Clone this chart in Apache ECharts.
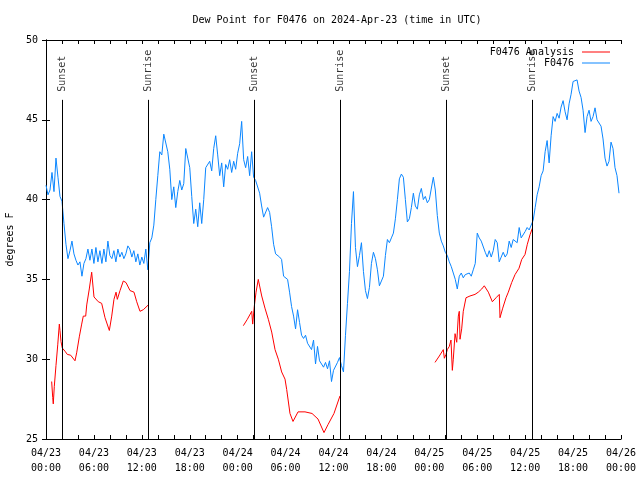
<!DOCTYPE html>
<html><head><meta charset="utf-8">
<script src="https://cdn.jsdelivr.net/npm/echarts@6/dist/echarts.min.js"></script>
<style>html,body{margin:0;padding:0;background:#fff}#c{width:640px;height:480px}</style>
</head><body><div id="c"></div>
<script>
const titleText = 'Dew Point for F0476 on 2024-Apr-23 (time in UTC)';
const yAxisName = 'degrees F';
const seriesObsName = 'F0476';
const seriesAnaName = 'F0476 Analysis';
const startMonth = '04';
const startDay = 23;
// F0476 observations, every 15 minutes starting 04/23 00:00 UTC
const obsStepHours = 0.25;
const obsValues = [
40.9,40.3,40.6,41.7,40.5,42.6,41.4,40.2,39.9,38.5,37.2,36.3,36.8,37.4,36.6,36.2,35.9,36.1,35.2,36.0,
36.3,36.9,36.2,36.9,36.0,37.0,36.1,36.8,36.0,36.9,36.1,37.4,36.5,36.3,36.8,36.1,36.9,36.4,36.7,36.3,
36.6,37.1,36.9,36.4,36.8,36.1,36.6,35.9,36.4,36.0,36.9,35.6,37.3,37.6,38.4,40.0,41.5,43.0,42.8,44.1,
44.0,43.0,41.9,40.0,40.8,39.5,40.5,41.2,40.6,41.0,43.2,42.6,42.0,40.2,38.5,39.4,38.3,39.8,38.5,40.0,
42.0,42.0,42.4,41.8,43.2,44.0,42.8,41.5,42.3,40.8,42.2,41.9,42.5,41.7,42.4,41.9,42.9,43.5,44.9,42.5,
42.0,42.7,41.5,43.0,41.4,41.2,41.1,40.4,39.6,38.9,38.9,39.5,39.2,38.3,37.2,36.6,36.5,36.4,36.25,35.2,
35.3,35.0,34.2,33.3,32.7,31.9,33.1,32.3,31.5,31.3,31.5,31.0,30.9,30.6,31.2,29.7,30.8,29.9,29.8,29.5,
29.8,29.4,29.9,28.6,29.3,29.2,29.8,30.1,29.6,29.2,31.5,33.5,35.5,38.5,40.5,37.0,35.8,36.5,37.3,35.5,
34.3,33.8,34.5,36.0,36.7,36.3,35.6,34.6,34.9,35.2,36.5,37.5,37.3,37.6,37.9,38.8,40.0,41.3,41.6,41.4,
40.0,38.6,38.8,39.5,40.4,39.6,39.4,40.3,40.7,40.0,40.2,39.8,40.0,40.1,41.4,40.6,39.0,37.9,37.4,37.1,
36.7,36.5,36.1,35.8,35.4,35.0,34.4,35.2,35.4,35.1,35.3,35.2,35.4,35.2,35.6,36.0,37.9,37.6,37.4,37.5,
36.7,36.4,36.8,36.4,36.8,37.5,37.3,36.1,36.4,36.7,36.4,36.6,37.4,37.0,37.5,37.6,37.3,38.25,37.6,37.6,
38.0,38.25,38.1,38.2,38.7,39.5,40.3,40.8,41.5,41.8,43.0,43.7,42.3,44.0,45.2,44.9,45.4,45.1,45.8,46.2,
45.5,45.0,46.0,46.6,47.4,47.3,47.5,46.8,46.4,45.6,44.2,45.2,45.6,44.9,45.2,45.75,45.0,44.8,44.6,43.8,
42.6,42.1,42.4,43.6,43.2,42.0,41.5,40.4
];
// F0476 Analysis, three runs (hours since 04/23 00:00 UTC)
const anaTimes1 = [0.71,0.84,0.91,1.04,1.25,1.47,1.67,1.75,1.88,2.04,2.38,2.67,3.09,3.63,3.84,4.17,4.47,4.67,4.97,5.10,5.42,5.72,6.01,6.55,6.97,7.39,7.93,8.23,8.51,8.77,8.93,9.27,9.68,10.02,10.52,11.02,11.36,11.77,12.18,12.81];
const anaValues1 = [28.6,27.6,27.2,28.3,29.6,30.9,32.2,31.8,31.1,30.7,30.5,30.3,30.25,29.9,30.4,31.4,32.2,32.7,32.7,33.4,34.4,35.45,33.9,33.6,33.5,32.6,31.8,32.7,33.75,34.2,33.75,34.3,34.9,34.8,34.3,34.2,33.6,33.0,33.1,33.4];
const anaTimes2 = [24.71,25.21,25.76,25.88,26.08,26.30,26.58,26.80,27.01,27.42,27.84,28.26,28.68,29.09,29.51,29.93,30.14,30.55,30.93,31.56,32.43,33.31,34.06,34.81,35.31,36.06,36.81];
const anaValues2 = [32.1,32.5,33.0,32.2,33.3,34.2,35.0,34.9,33.96,33.2,32.5,31.7,30.6,30.0,29.2,28.75,28.1,26.6,26.1,26.7,26.7,26.6,26.25,25.4,25.9,26.6,27.7];
const anaTimes3 = [48.71,49.25,49.75,49.88,50.09,50.25,50.50,50.71,50.88,51.00,51.22,51.43,51.63,51.75,51.84,52.05,52.25,52.59,53.09,53.72,54.13,54.56,54.88,55.39,55.89,56.35,56.76,56.85,57.19,57.60,57.89,58.31,58.73,59.23,59.57,59.98,60.27,60.61,60.90];
const anaValues3 = [29.8,30.2,30.6,30.06,30.3,30.6,30.8,31.2,29.3,30.0,31.6,31.06,32.7,33.0,31.25,31.9,33.0,33.85,33.96,34.06,34.2,34.4,34.6,34.2,33.6,33.85,34.06,32.6,33.2,33.85,34.2,34.8,35.3,35.7,36.25,36.56,37.2,37.8,38.2];
// Sun events (hours since 04/23 00:00 UTC)
const sunNames = ['Sunset','Sunrise','Sunset','Sunrise','Sunset','Sunrise'];
const sunTimes = [2.04,12.81,26.08,36.84,50.12,60.88];

const FONT = 'DejaVu Sans Mono';
const xMin = 0, xMax = 72, xStep = 6;
const yMin = 25, yMax = 50, yStep = 5;
const sunLineTop = 46.25, sunLabelBase = 46.75;

function pad(n){return (n<10?'0':'')+n;}
function xLabel(v){
  const d = startDay + Math.floor(v/24);
  const h = Math.round(v % 24);
  return startMonth + '/' + d + '\n' + pad(h) + ':00';
}

const obsData = obsValues.map((v,i)=>[i*obsStepHours, v]);
const anaSets = [[anaTimes1,anaValues1],[anaTimes2,anaValues2],[anaTimes3,anaValues3]];
const RED = '#ff0000', BLUE = '#0a86ff';

const series = anaSets.map(([t,v],k)=>({
  name: seriesAnaName, type:'line', showSymbol:false, symbol:'none',
  data: t.map((x,i)=>[x,v[i]]),
  lineStyle:{color:RED,width:1}, itemStyle:{color:RED}, animation:false, z:2
}));
series.push({
  name: seriesObsName, type:'line', showSymbol:false, symbol:'none',
  data: obsData, lineStyle:{color:BLUE,width:1}, itemStyle:{color:BLUE}, animation:false, z:3,
  markLine:{
    silent:true, symbol:'none', animation:false,
    lineStyle:{color:'#000',width:1,type:'solid'},
    label:{show:false},
    data: sunTimes.map(t=>[{coord:[t,yMin]},{coord:[t,sunLineTop]}])
  }
});
series.push({
  name:'sun', type:'scatter', symbolSize:0, animation:false, z:4,
  data: sunTimes.map((t,i)=>({value:[t,sunLabelBase], name:sunNames[i]})),
  label:{show:true, position:'inside', formatter:'{b}', rotate:90, align:'left', verticalAlign:'middle',
    fontFamily:FONT, fontSize:10, color:'#000'}
});

const chart = echarts.init(document.getElementById('c'), null, {renderer:'canvas'});
chart.setOption({
  backgroundColor:'#fff',
  animation:false,
  title:{text:titleText, left:332, top:10, textAlign:'center',
    textStyle:{fontFamily:FONT,fontSize:10,fontWeight:'normal',color:'#000'}},
  legend:{
    data:[seriesAnaName, seriesObsName], orient:'vertical', right:25, top:42, align:'right',
    icon:'path://M0,0H28V1H0Z', itemWidth:28, itemHeight:1, itemGap:1,
    textStyle:{fontFamily:FONT,fontSize:10,color:'#000', padding:[0,3,0,0]},
    selectedMode:false
  },
  grid:{left:46, right:19, top:40, bottom:41, containLabel:false, outerBoundsMode:'none'},
  xAxis:[{
    type:'value', min:xMin, max:xMax, interval:xStep, position:'bottom',
    axisLine:{lineStyle:{color:'#000',width:1}},
    axisTick:{inside:true,length:4,lineStyle:{color:'#000'}},
    minorTick:{show:true,splitNumber:3,length:4,lineStyle:{color:'#000'}},
    splitLine:{show:false},
    axisLabel:{formatter:xLabel, fontFamily:FONT, fontSize:10, color:'#000', lineHeight:15, margin:7, showMinLabel:true, showMaxLabel:true}
  },{
    type:'value', min:xMin, max:xMax, interval:xStep, position:'top',
    axisLine:{lineStyle:{color:'#000',width:1}},
    axisTick:{inside:true,length:4,lineStyle:{color:'#000'}},
    minorTick:{show:true,splitNumber:3,length:4,lineStyle:{color:'#000'}},
    splitLine:{show:false}, axisLabel:{show:false}
  }],
  yAxis:[{
    type:'value', min:yMin, max:yMax, interval:yStep, position:'left',
    name:yAxisName, nameLocation:'middle', nameRotate:90, nameGap:31,
    nameTextStyle:{fontFamily:FONT,fontSize:10,color:'#000'},
    axisLine:{show:true,lineStyle:{color:'#000',width:1}},
    axisTick:{inside:true,length:4,lineStyle:{color:'#000'}},
    splitLine:{show:false},
    axisLabel:{fontFamily:FONT,fontSize:10,color:'#000',margin:8}
  },{
    type:'value', min:yMin, max:yMax, interval:yStep, position:'right',
    axisLine:{show:true,lineStyle:{color:'#000',width:1}},
    axisTick:{inside:true,length:4,lineStyle:{color:'#000'}},
    splitLine:{show:false}, axisLabel:{show:false}
  }],
  series: series
});
</script></body></html>
